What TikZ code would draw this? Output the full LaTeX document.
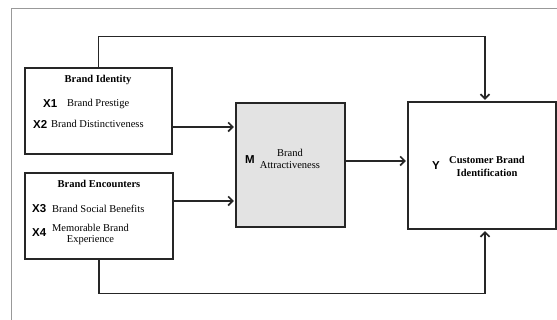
\documentclass[tikz,border=0pt]{standalone}
\usepackage{fontspec}
\setmainfont{Liberation Serif}
\newfontfamily\varfont{Liberation Sans}
\usetikzlibrary{arrows.meta,positioning}
\begin{document}
\begin{tikzpicture}[x=1pt,y=-1pt,
    box/.style={draw=black!85,line width=1.2pt,inner sep=0pt},
    link/.style={draw=black!85,line width=1.7pt,shorten >=1.5pt,-{Straight Barb[length=4.5pt,width=9pt]}},
    var/.style={font=\varfont\bfseries\fontsize{11.5}{12}\selectfont,inner sep=0pt},
    lbl/.style={font=\fontsize{10.5}{11}\selectfont,inner sep=0pt,align=center},
    head/.style={lbl,font=\bfseries\fontsize{10.5}{13}\selectfont}]
    \useasboundingbox (0,0) rectangle (557,320);
    \draw[black!40,line width=0.8pt] (557,8) -- (11,8) -- (11,320);

    \node[box,minimum width=147pt,minimum height=86pt] (ident) at (98.5,111) {};
    \node[box,minimum width=148pt,minimum height=86pt] (enc) at (99,216) {};
    \node[box,fill=black!11,minimum width=109pt,minimum height=124pt] (attr) at (290.5,165) {};
    \node[box,minimum width=148pt,minimum height=127pt] (cbi) at (482,165.5) {};

    \node[head] (identT) at (98,80) {Brand Identity};
    \node[var,anchor=west] (x1) at (43,104) {X1};
    \node[lbl,anchor=west] (x1T) at (67,104) {Brand Prestige};
    \node[var,anchor=west] (x2) at (33,124) {X2};
    \node[lbl,anchor=west] (x2T) at (51,124) {Brand Distinctiveness};

    \node[head] (encT) at (99,184) {Brand Encounters};
    \node[var,anchor=west] (x3) at (32,209) {X3};
    \node[lbl,anchor=west] (x3T) at (52,209) {Brand Social Benefits};
    \node[var,anchor=west] (x4) at (32,233) {X4};
    \node[lbl] (x4T) at (90.5,234) {Memorable Brand\\Experience};

    \node[var,anchor=west] (m) at (245,160) {M};
    \node[lbl,font=\fontsize{10.5}{12.5}\selectfont] (mT) at (290,159) {Brand\\Attractiveness};

    \node[var,anchor=west] (y) at (432,166) {Y};
    \node[head] (yT) at (487,166.5) {Customer Brand\\Identification};

    \coordinate (idout) at ([yshift=-16pt]ident.east);
    \coordinate (encout) at ([yshift=15pt]enc.east);
    \coordinate (attrout) at ([yshift=4pt]attr.east);
    \draw[link] (idout) -- (idout -| attr.west);
    \draw[link] (encout) -- (encout -| attr.west);
    \draw[link] (attrout) -- (attrout -| cbi.west);
    \draw[link] (ident.north) -- ++(0,-31) -| ([xshift=3pt]cbi.north);
    \draw[link] (enc.south) -- ++(0,34) -| ([xshift=3pt]cbi.south);
\end{tikzpicture}
\end{document}
